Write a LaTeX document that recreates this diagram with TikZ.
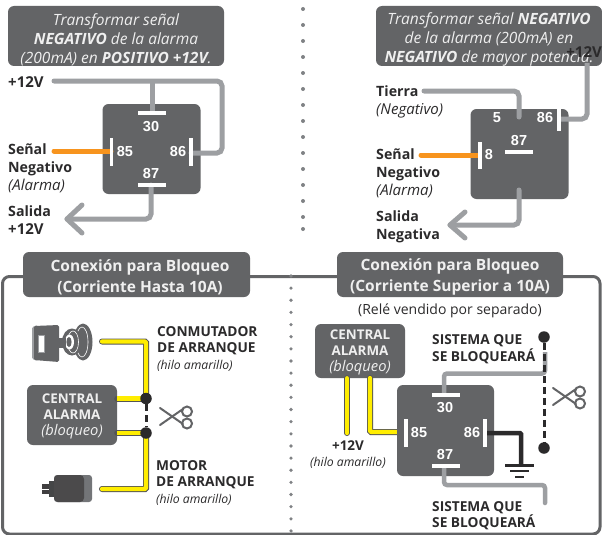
\documentclass[tikz,border=0pt]{standalone}
\usepackage{fontspec}
\setmainfont{Open Sans}
\newfontfamily\relayfont{Liberation Sans}
\definecolor{boxg}{HTML}{636466}
\definecolor{wireg}{HTML}{9D9FA2}
\definecolor{dotg}{HTML}{808285}
\definecolor{orng}{HTML}{F7941E}
\definecolor{yell}{HTML}{FFED00}
\definecolor{ink}{HTML}{2B2A2B}
\definecolor{boxt}{HTML}{EFEFEF}
\newcommand{\itl}{\fontsize{15}{17.7}\selectfont\itshape}
\newcommand{\blab}{\fontsize{14.2}{17.7}\selectfont\bfseries}
\tikzset{
  x=1pt,y=-1pt,
  greybox/.style={fill=boxg,draw=none,rounded corners=6pt},
  cap13/.style={font=\fontsize{15.5}{19}\selectfont\itshape,text=boxt,align=center,inner sep=0pt},
  head/.style={font=\fontsize{15.5}{21}\selectfont\bfseries,text=boxt,align=center,inner sep=0pt},
  alarm/.style={font=\fontsize{13.4}{16}\selectfont,text=boxt,align=center,inner sep=0pt},
  lab/.style={font=\fontsize{14.2}{17.7}\selectfont,text=ink,align=left,anchor=north west,inner sep=0pt},
  labs/.style={font=\fontsize{13.7}{16.7}\selectfont\bfseries,text=ink,align=left,anchor=north west,inner sep=0pt},
  hilo/.style={font=\fontsize{12.2}{14}\selectfont\itshape,text=ink,inner sep=0pt},
  pin/.style={font=\relayfont\fontsize{14.5}{14.5}\selectfont\bfseries,text=white,inner sep=0pt},
  bar/.style={draw=white,line width=3.6pt},
  gwire/.style={draw=wireg,line width=5pt,rounded corners=5pt,line cap=round},
  gthin/.style={draw=wireg,line width=4.5pt,rounded corners=3pt},
  owire/.style={draw=orng,line width=5pt,line cap=round},
  ywire/.style={preaction={draw=ink!80,line width=6pt,line cap=round},draw=yell,line width=4.2pt,line cap=round,rounded corners=1pt,line join=round},
  bwire/.style={draw=ink,line width=4.5pt},
  junction/.style={circle,fill=ink,draw=none,minimum size=11.5pt,inner sep=0pt},
  dot/.style={fill=dotg,draw=none},
  scis/.style={draw=boxg,line width=2pt,line cap=round},
  cutl/.style={draw=ink,line width=3pt,dash pattern=on 7pt off 4pt},
}
\newcommand{\scissors}[2]{%
  \begin{scope}[shift={(#1,#2)}]
    \draw[scis] (0,0) -- (23,16);
    \draw[scis] (0,17) -- (23,1);
    \draw[scis] (27,3.5) circle[radius=5pt];
    \draw[scis] (27,15.5) circle[radius=5pt];
  \end{scope}}
\begin{document}
\begin{tikzpicture}
\useasboundingbox (0,0) rectangle (602,535);
\fill[white] (0,0) rectangle (602,535);

% ---------- top-left panel
\node[greybox,minimum width=216pt,minimum height=60pt] (capA) at (116,36) {};
\node[cap13] (capAt) at (116,39.5) {Transformar señal\\{\bfseries NEGATIVO} de la alarma\\(200mA) en {\bfseries POSITIVO +12V}.};
\node[greybox,minimum width=98pt,minimum height=90pt] (relA) at (151.5,149) {};
\coordinate (a30) at (152,113);
\coordinate (a86) at (191,153);
\coordinate (a85) at (111,151);
\coordinate (a87) at (151,185);
\coordinate (asrc) at (54,81);
\coordinate (aneg) at (54,151);
\coordinate (aout) at (67,219);
\draw[gwire] (asrc) -- (222,81) -- (222,153) -- (a86);
\draw[gwire,line cap=butt] (152,81) -- (a30);
\draw[owire] (aneg) -- (a85);
\draw[gwire] (a87) -- (151,219) -- (aout);
\draw[gwire,rounded corners=0pt,line join=round] (82,205) -- (aout) -- (82,233);
\draw[bar] (138,113) -- (166,113);
\draw[bar] (111.5,138) -- (111.5,166);
\draw[bar] (191,138) -- (191,166);
\draw[bar] (138,185) -- (166,185);
\node[pin] (p30a) at (151,127) {30};
\node[pin] (p85a) at (125,152) {85};
\node[pin] (p86a) at (178,152) {86};
\node[pin] (p87a) at (151,174) {87};
\node[lab,anchor=west,font=\fontsize{15}{15}\selectfont\bfseries] (a12) at (8,82) {+12V};
\node[lab] (asen) at (8,144) {{\blab Señal}\\{\blab Negativo}\\{\itl (Alarma)}};
\node[lab] (asal) at (8,205.5) {{\blab Salida}\\{\fontsize{15}{17.7}\selectfont\bfseries +12V}};

% ---------- centre dots, top
\foreach \yy [count=\i] in {9,25,41,57,73,89,105,121,137,153,169,185,201,217,229}
  \fill[dot] (303,\yy) circle[radius=2pt];

% ---------- top-right panel
\node[greybox,minimum width=226pt,minimum height=60pt] (capB) at (489,36) {};
\node[cap13] (capBt) at (489,39.5) {Transformar señal {\bfseries NEGATIVO}\\de la alarma (200mA) en\\{\bfseries NEGATIVO} de mayor potencia.};
\node[greybox,minimum width=98pt,minimum height=90pt] (relB) at (519.5,154) {};
\coordinate (b86) at (560,119);
\coordinate (b5) at (519,117);
\coordinate (b8) at (479,155);
\coordinate (bsrc) at (587,63);
\coordinate (btie) at (424,91);
\coordinate (bneg) at (421,155);
\coordinate (bfrom) at (519,190);
\coordinate (bout) at (450,225);
\draw[gwire,line cap=butt] (bsrc) -- (587,119) -- (b86);
\draw[gwire] (btie) -- (519,91) -- (b5);
\draw[owire] (bneg) -- (b8);
\draw[gwire] (bfrom) -- (519,225) -- (bout);
\draw[gwire,rounded corners=0pt,line join=round] (465,212) -- (bout) -- (465,238);
\draw[bar] (559,108) -- (559,131);
\draw[bar] (480,142) -- (480,169);
\draw[bar] (505,152) -- (533,152);
\node[pin] (p5b) at (497,118) {5};
\node[pin] (p86b) at (545,118) {86};
\node[pin] (p87b) at (519,141) {87};
\node[pin] (p8b) at (489,155) {8};
\node[lab,anchor=east,font=\fontsize{15}{15}\selectfont\bfseries] (b12) at (602,52) {+12V};
\node[lab] (btier) at (376,85.5) {{\blab Tierra}\\{\itl (Negativo)}};
\node[lab] (bsen) at (376,149) {{\blab Señal}\\{\blab Negativo}\\{\itl (Alarma)}};
\node[lab] (bsal) at (376,210.5) {{\blab Salida}\\{\blab Negativa}};

% ---------- lower frame
\draw[draw=boxg,line width=3pt,rounded corners=7pt] (2.5,534) rectangle (600,276.5);
\node[greybox,minimum width=227pt,minimum height=45pt] (headL) at (136.5,274.5) {};
\node[head] (headLt) at (140,277) {Conexión para Bloqueo\\(Corriente Hasta 10A)};
\node[greybox,minimum width=226pt,minimum height=45pt] (headR) at (450,274.5) {};
\node[head] (headRt) at (450,277) {Conexión para Bloqueo\\(Corriente Superior a 10A)};
\foreach \i in {0,...,21}
  \fill[dot] (291,{276+\i*12.14}) circle[radius=1.8pt];
\node[font=\fontsize{14}{14}\selectfont,text=ink,inner sep=0pt] (rele) at (450,311) {(Relé vendido por separado)};

% ---------- lower-left: key
\fill[boxg] (83,342) ellipse[x radius=9.5pt,y radius=18.5pt];
\draw[white,line width=.6pt] (82,342) ellipse[x radius=6pt,y radius=15pt];
\fill[boxg] (72,342) ellipse[x radius=10pt,y radius=13.5pt];
\draw[white,line width=.6pt] (73,342) ellipse[x radius=5.5pt,y radius=11pt];
\fill[white] (69.5,342) ellipse[x radius=4.5pt,y radius=7.5pt];
\fill[boxg] (69,342) ellipse[x radius=2.6pt,y radius=5pt];
\fill[wireg,rounded corners=1.5pt] (32,327) -- (38,325) -- (38,361) -- (32,359) -- cycle;
\fill[boxg,rounded corners=1.5pt] (34,326) -- (59,325) -- (59,362) -- (34,360) -- cycle;
\fill[boxg] (58,338) rectangle (66,348);
\fill[white] (38.5,335) rectangle (44,352);
\draw[wireg,line width=.8pt] (38.5,335) rectangle (44,352);

% ---------- lower-left: motor
\fill[ink!90] (42,484) rectangle (50,494);
\draw[white,line width=.7pt] (42,489) -- (50,489);
\fill[boxg!70!black] (49,481) rectangle (56,497);
\fill[dotg!90!black,rounded corners=3pt] (54,475) rectangle (92,502);
\fill[ink!85,rounded corners=4pt] (54,475) rectangle (84,502);

% ---------- lower-left: wiring
\node[greybox,minimum width=90pt,minimum height=60pt] (cenL) at (72,415) {};
\node[alarm] (cenLt) at (72,416) {{\bfseries CENTRAL}\\{\bfseries ALARMA}\\{\fontsize{14.7}{16}\selectfont\itshape (bloqueo)}};
\coordinate (keyw) at (102,341.5);
\coordinate (motw) at (102,489);
\coordinate (j1c) at (146,398.5);
\coordinate (j2c) at (146,433);
\draw[ywire] (keyw) -- (146,341.5) -- (j1c);
\draw[ywire] (motw) -- (146,489) -- (j2c);
\draw[ywire,line cap=butt] (cenL.east |- j1c) -- (j1c);
\draw[ywire,line cap=butt] (cenL.east |- j2c) -- (j2c);
\node[junction] (j1) at (j1c) {};
\node[junction] (j2) at (j2c) {};
\draw[cutl] (j1) -- (j2);
\scissors{160}{408}
\node[labs] (conm) at (157,326) {CONMUTADOR\\DE ARRANQUE};
\node[hilo,anchor=west] (hilo1) at (157,365.5) {(hilo amarillo)};
\node[labs] (moto) at (156,460) {MOTOR\\DE ARRANQUE};
\node[hilo,anchor=west] (hilo2) at (156,499.5) {(hilo amarillo)};

% ---------- lower-right: wiring
\node[greybox,minimum width=90pt,minimum height=54pt] (cenR) at (360,351) {};
\node[alarm] (cenRt) at (360,352) {{\bfseries CENTRAL}\\{\bfseries ALARMA}\\{\fontsize{14.7}{16}\selectfont\itshape (bloqueo)}};
\coordinate (c12) at (347,433);
\coordinate (c85) at (405,432);
\coordinate (c30) at (444,394);
\coordinate (c87) at (444,467);
\coordinate (c86) at (486,433);
\coordinate (csys) at (545,352);
\coordinate (cend) at (545,503);
\coordinate (cgnd) at (521,465);
\node[junction] (j3) at (544,337) {};
\node[junction] (j4) at (544,448) {};
\draw[ywire] (cenR.south -| c12) -- (c12);
\draw[ywire] (370,378) -- (370,432) -- (c85);
\node[greybox,minimum width=97pt,minimum height=91pt] (relC) at (445.5,430.5) {};
\draw[gthin,line cap=butt] (c30) -- (444,373.5) -- (545,373.5) -- (csys);
\draw[gthin,line cap=round] (c87) -- (444,485) -- (545,485) -- (cend);
\draw[bwire,line join=miter,rounded corners=1pt] (c86) -- (521,433) -- (cgnd);
\draw[cutl] (j3) -- (j4);
\draw[ink,line width=2.4pt] (505,465.5) -- (534,465.5);
\draw[ink,line width=2.2pt] (510,471) -- (529,471);
\draw[ink,line width=2.2pt] (515,477) -- (524,477);
\draw[bar] (432,395) -- (460,395);
\draw[bar] (406,419) -- (406,447);
\draw[bar] (485,419) -- (485,447);
\draw[bar] (432,466) -- (460,466);
\node[pin] (p30c) at (445,408) {30};
\node[pin] (p85c) at (419,433) {85};
\node[pin] (p86c) at (472,433) {86};
\node[pin] (p87c) at (445,455) {87};
\scissors{553}{388}
\node[labs] (sis1) at (432,334.5) {SISTEMA QUE\\SE BLOQUEARÁ};
\node[labs] (sis2) at (432,501) {SISTEMA QUE\\SE BLOQUEARÁ};
\node[font=\fontsize{13.5}{13.5}\selectfont\bfseries,text=ink,inner sep=0pt] (c12t) at (348,446) {+12V};
\node[hilo] (hilo3) at (348,463) {(hilo amarillo)};
\end{tikzpicture}
\end{document}
